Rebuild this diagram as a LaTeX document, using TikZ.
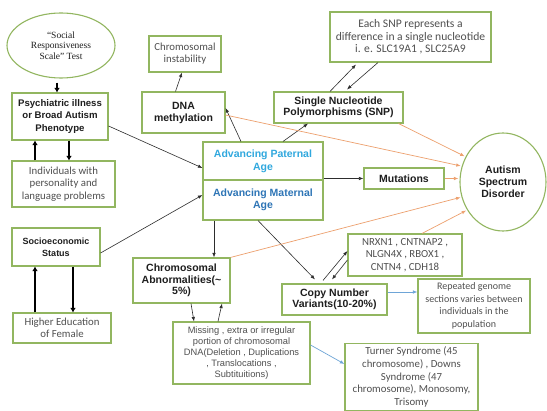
\documentclass[tikz,border=0pt]{standalone}
\usepackage{fontspec}
\setmainfont{Carlito}
\newfontfamily\arialf{Liberation Sans}
\newfontfamily\timesf{Liberation Serif}
\usetikzlibrary{arrows.meta,calc,shapes.geometric}
\definecolor{boxgreen}{RGB}{146,182,96}
\definecolor{txtgrey}{RGB}{80,80,80}
\definecolor{txtdark}{RGB}{30,30,30}
\definecolor{patblue}{RGB}{48,168,222}
\definecolor{matblue}{RGB}{46,117,182}
\definecolor{arrorange}{RGB}{237,160,110}
\definecolor{arrblue}{RGB}{110,165,215}
\definecolor{arrdark}{RGB}{45,45,45}
\begin{document}
\begin{tikzpicture}[x=1pt,y=-1pt,
  box/.style={draw=boxgreen, line width=1.1pt, fill=white, inner sep=0pt, align=center},
  bt/.style={font=\arialf\bfseries\fontsize{10.5}{12}\selectfont, text=txtdark},
  nt/.style={font=\fontsize{10.8}{12.2}\selectfont, text=txtgrey},
  thickarr/.style={draw=black, line width=2.2pt, -{Latex[length=4.5pt,width=5.5pt]}},
  thinarr/.style={draw=arrdark, line width=0.6pt, -{Latex[length=4.5pt,width=3.5pt]}},
  orarr/.style={draw=arrorange, line width=0.7pt, -{Latex[length=4.5pt,width=3.5pt]}, shorten >=1pt},
  bluarr/.style={draw=arrblue, line width=0.7pt, -{Latex[length=4.5pt,width=3.5pt]}}
]
\useasboundingbox (0,0) rectangle (547,411);
\fill[white] (0,0) rectangle (547,411);

% nodes
\node[ellipse, draw=boxgreen, line width=1.1pt, minimum width=108, minimum height=65, inner sep=0pt, align=center, font=\timesf\fontsize{9.5}{10.5}\selectfont, text=txtdark] (srs) at (61,45.5) {“Social\\Responsiveness\\Scale” Test};
\node[box, bt, font=\arialf\bfseries\fontsize{9.6}{12.5}\selectfont, minimum width=96, minimum height=47] (psych) at (60,116.5) {Psychiatric illness\\or Broad Autism\\Phenotype};
\node[box, nt, minimum width=103, minimum height=46] (indiv) at (63.5,184) {Individuals with\\personality and\\language problems};
\node[box, bt, font=\arialf\bfseries\fontsize{9}{12}\selectfont, minimum width=88, minimum height=38] (socio) at (56,247) {Socioeconomic\\Status};
\node[box, nt, minimum width=98, minimum height=30] (higher) at (62,328) {Higher Education\\of Female};
\node[box, nt, minimum width=72, minimum height=36] (chrinst) at (185,54) {Chromosomal\\instability};
\node[box, bt, minimum width=83, minimum height=41] (dna) at (183.5,112.5) {DNA\\methylation};
\node[box, bt, minimum width=129, minimum height=31, font=\arialf\bfseries\fontsize{10.5}{11.5}\selectfont] (snp) at (338.5,107.5) {Single Nucleotide\\Polymorphisms (SNP)};
\node[box, nt, font=\fontsize{11.6}{12.5}\selectfont, minimum width=161, minimum height=50] (eachsnp) at (410.5,37) {Each SNP represents a\\difference in a single nucleotide\\i. e. SLC19A1 , SLC25A9};
\node[box, bt, text=patblue, minimum width=120, minimum height=38, font=\arialf\bfseries\fontsize{10.5}{13}\selectfont] (pat) at (263,161) {Advancing Paternal\\Age};
\node[box, bt, text=matblue, minimum width=120, minimum height=40] (mat) at (263,200) {Advancing Maternal\\Age};
\node[box, bt, minimum width=80, minimum height=21] (mut) at (404,178.5) {Mutations};
\node[ellipse, draw=boxgreen, line width=1.1pt, fill=white, minimum width=86, minimum height=98, inner sep=0pt, align=center, bt] (asd) at (503,182) {Autism\\Spectrum\\Disorder};
\node[box, bt, font=\arialf\bfseries\fontsize{10.5}{11.5}\selectfont, minimum width=97, minimum height=45] (chrabn) at (181.5,280.5) {Chromosomal\\Abnormalities(\textasciitilde\\5\%)};
\node[box, bt, font=\arialf\bfseries\fontsize{10.5}{11.5}\selectfont, minimum width=105, minimum height=31] (cnv) at (334.5,299.5) {Copy Number\\Variants(10-20\%)};
\node[box, nt, font=\fontsize{10.8}{12.5}\selectfont, minimum width=114, minimum height=42] (nrxn) at (405,255) {NRXN1 , CNTNAP2 ,\\NLGN4X , RBOX1 ,\\CNTN4 , CDH18};
\node[box, nt, font=\fontsize{10}{12.6}\selectfont, minimum width=112, minimum height=54] (rep) at (474,306) {Repeated genome\\sections varies between\\individuals in the\\population};
\node[box, font=\arialf\fontsize{9.3}{11}\selectfont, text=txtgrey, minimum width=137, minimum height=62] (missing) at (241.5,353) {Missing , extra or irregular\\portion of chromosomal\\DNA(Deletion , Duplications\\, Translocations ,\\Subtituitions)};
\node[box, nt, font=\fontsize{10.8}{12.6}\selectfont, minimum width=133, minimum height=67] (turner) at (411.5,377) {Turner Syndrome (45\\chromosome) , Downs\\Syndrome (47\\chromosome), Monosomy,\\Trisomy};

% thick arrows
\coordinate (t1) at ([xshift=-4]srs.south);
\draw[thickarr, shorten <=4pt] (t1) -- (t1 |- psych.north);
\coordinate (t2) at ([xshift=-25]psych.south);
\draw[thickarr] (t2 |- indiv.north) -- (t2);
\coordinate (t3) at ([xshift=9]psych.south);
\draw[thickarr] (t3) -- (t3 |- indiv.north);
\coordinate (t4) at ([xshift=-21]socio.south);
\draw[thickarr] (t4 |- higher.north) -- (t4);
\coordinate (t5) at ([xshift=17]socio.south);
\draw[thickarr] (t5) -- (t5 |- higher.north);

% thin dark arrows
\draw[thinarr] ([xshift=-8]dna.north) -- ([xshift=-3]chrinst.south);
\draw[thinarr] ([yshift=-9.5]psych.east) -- ([yshift=-7]pat.west);
\draw[thinarr] ([yshift=-6]socio.east) -- ([yshift=5]mat.west);
\draw[thinarr] ([xshift=-22]pat.north) -- ([yshift=4.5]dna.east);
\draw[thinarr] ([xshift=20]pat.north) -- ([xshift=-30.5]snp.south);
\draw[thinarr] (pat.south east |- mut.west) -- (mut.west);
\coordinate (m1) at ([xshift=-49]mat.south);
\draw[thinarr] (m1) -- (m1 |- chrabn.north);
\draw[thinarr] ([xshift=-5]mat.south) -- ([xshift=-19.5,yshift=4]cnv.north);
\draw[thinarr] ([xshift=-11.5,yshift=3]cnv.north) -- ([yshift=4]nrxn.west);
\draw[thinarr] ([yshift=-5]nrxn.west) -- ([xshift=-2.5,yshift=4]cnv.north);
\draw[thinarr] ([xshift=-8.5]snp.north) -- ([xshift=-54.5,yshift=-2]eachsnp.south);
\draw[thinarr] ([xshift=-32.5]eachsnp.south) -- ([xshift=8.5,yshift=2]snp.north);
\draw[thinarr] ([xshift=9.5]chrabn.south) -- ([xshift=-47.5]missing.north);
\draw[thinarr] ([xshift=-23.5]missing.north) -- ([xshift=40.5]chrabn.south);

% blue arrows
\coordinate (b1) at ([yshift=7.5]cnv.east);
\draw[bluarr] (b1) -- (b1 -| rep.west);
\draw[bluarr] ([yshift=8]missing.east) -- ([yshift=13]turner.west);

% orange arrows
\draw[orarr] ([xshift=-5]snp.south east) -- (asd.146);
\draw[orarr] ([yshift=-2.5]dna.east) -- (asd.159);
\draw[orarr] (mut.east) -- (mut.east -| asd.west);
\draw[orarr] (chrabn.north east) -- (asd.200);
\draw[orarr] ([xshift=17]nrxn.north) -- (asd.218);
\end{tikzpicture}
\end{document}
